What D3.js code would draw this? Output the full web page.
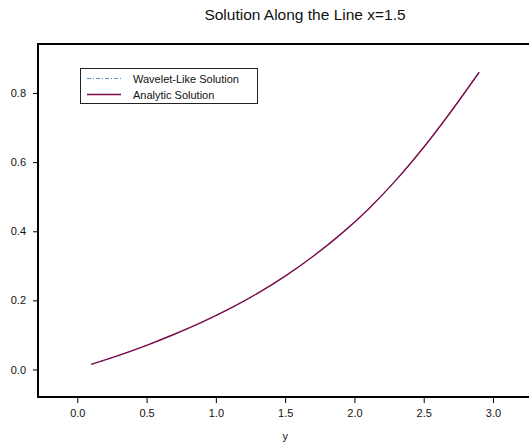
<!DOCTYPE html>
<html>
<head>
<meta charset="utf-8">
<script src="https://cdn.jsdelivr.net/npm/d3@7"></script>
<style>
  html, body { margin: 0; padding: 0; background: #fff; }
  svg { display: block; font-family: "Liberation Sans", Arial, sans-serif; }
</style>
</head>
<body>
<svg id="chart" width="529" height="448"></svg>
<script>
// Sample positions along y and the solution values at x = 1.5
const yPositions = [0.1, 0.3, 0.5, 0.7, 0.9, 1.1, 1.3, 1.5, 1.7, 1.9, 2.1, 2.3, 2.5, 2.7, 2.9];
const analyticValues = [0.015, 0.041, 0.070, 0.102, 0.137, 0.176, 0.220, 0.270, 0.327, 0.391, 0.464, 0.548, 0.643, 0.748, 0.860];
const waveletValues  = [0.015, 0.041, 0.070, 0.102, 0.137, 0.176, 0.220, 0.270, 0.327, 0.391, 0.464, 0.548, 0.643, 0.748, 0.860];
const xTicks = [0.0, 0.5, 1.0, 1.5, 2.0, 2.5, 3.0];
const yTicks = [0.0, 0.2, 0.4, 0.6, 0.8];
const seriesNames = ["Wavelet-Like Solution", "Analytic Solution"];

const svg = d3.select("#chart");
const W = 529, H = 448;
const frameLeft = 38, frameTop = 44, frameBottom = 397;

const x = d3.scaleLinear().domain([0, 3]).range([77.3, 493]);
const y = d3.scaleLinear().domain([0, 0.8]).range([369.5, 93]);

// Title
svg.append("text")
  .attr("x", 305).attr("y", 20)
  .attr("text-anchor", "middle")
  .attr("font-size", 15.5)
  .attr("fill", "#111")
  .text("Solution Along the Line x=1.5");

// Frame: left, top and bottom edges
const frame = svg.append("g").attr("stroke", "#000").attr("stroke-width", 2).attr("fill", "none");
frame.append("path").attr("d", `M${W},${frameTop}H${frameLeft}V${frameBottom}H${W}`);

// Axes
const xAxis = d3.axisBottom(x).tickValues(xTicks).tickFormat(d3.format(".1f")).tickSize(6).tickPadding(6);
const gx = svg.append("g").attr("transform", `translate(0,${frameBottom})`).call(xAxis);
gx.select(".domain").remove();
gx.selectAll("text").attr("font-size", 11).attr("fill", "#111").attr("font-family", "Liberation Sans, Arial, sans-serif");
gx.selectAll("line").attr("stroke", "#000");

const yAxis = d3.axisLeft(y).tickValues(yTicks).tickFormat(d3.format(".1f")).tickSize(5).tickPadding(7);
const gy = svg.append("g").attr("transform", `translate(${frameLeft},0)`).call(yAxis);
gy.select(".domain").remove();
gy.selectAll("text").attr("font-size", 11).attr("fill", "#111").attr("font-family", "Liberation Sans, Arial, sans-serif");
gy.selectAll("line").attr("stroke", "#000");

// Axis label
svg.append("text")
  .attr("x", x(1.5)).attr("y", 440)
  .attr("text-anchor", "middle")
  .attr("font-size", 11)
  .attr("fill", "#111")
  .text("y");

// Curves
const line = d3.line().curve(d3.curveCatmullRom);
const waveColor = "#5b8fc9", anaColor = "#7a0a48";

svg.append("path")
  .datum(yPositions.map((v, i) => [x(v), y(waveletValues[i])]))
  .attr("d", line)
  .attr("fill", "none")
  .attr("stroke", waveColor)
  .attr("stroke-width", 1)
  .attr("stroke-dasharray", "4,2,1,2");

svg.append("path")
  .datum(yPositions.map((v, i) => [x(v), y(analyticValues[i])]))
  .attr("d", line)
  .attr("fill", "none")
  .attr("stroke", anaColor)
  .attr("stroke-width", 1.4);

// Legend
const lg = svg.append("g");
lg.append("rect")
  .attr("x", 80.5).attr("y", 68.5).attr("width", 177).attr("height", 35)
  .attr("fill", "#fff").attr("stroke", "#222").attr("stroke-width", 1);
const legendStyles = [
  { color: waveColor, dash: "4,2,1,2", width: 1 },
  { color: anaColor, dash: null, width: 1.6 }
];
seriesNames.forEach((name, i) => {
  const yy = 78.5 + i * 16;
  lg.append("line")
    .attr("x1", 87).attr("x2", 121).attr("y1", yy).attr("y2", yy)
    .attr("stroke", legendStyles[i].color)
    .attr("stroke-width", legendStyles[i].width)
    .attr("stroke-dasharray", legendStyles[i].dash);
  lg.append("text")
    .attr("x", 133).attr("y", yy + 4)
    .attr("font-size", 11)
    .attr("fill", "#111")
    .text(name);
});
</script>
</body>
</html>
